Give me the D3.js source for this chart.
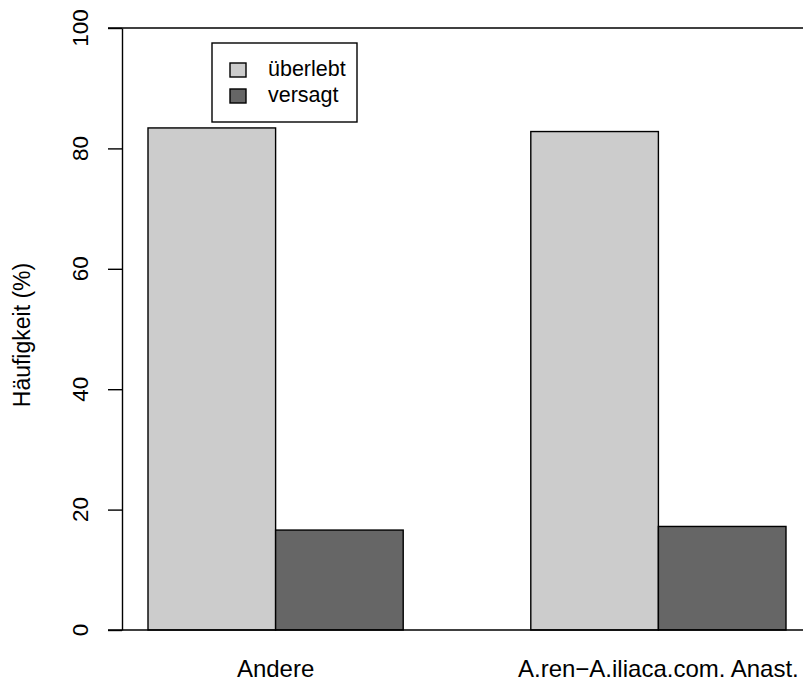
<!DOCTYPE html>
<html>
<head>
<meta charset="utf-8">
<script src="https://cdn.jsdelivr.net/npm/d3@7"></script>
<style>
  body { margin: 0; background: #fff; }
  text { font-family: "Liberation Sans", Arial, sans-serif; fill: #000; }
</style>
</head>
<body>
<div id="chart"></div>
<script>
const width = 803;
const height = 683;

// data
const groups = ["Andere", "A.ren\u2212A.iliaca.com. Anast."];
const series = ["überlebt", "versagt"];
const values = [
  [83.4, 16.6],
  [82.8, 17.2]
];
const yTicks = [0, 20, 40, 60, 80, 100];
const colors = ["#cccccc", "#666666"];

const svg = d3.select("#chart").append("svg")
  .attr("width", width)
  .attr("height", height);

const y = d3.scaleLinear().domain([0, 100]).range([630, 28]);

const x0 = d3.scaleBand()
  .domain(groups)
  .range([148, 786])
  .paddingInner(1 / 3)
  .paddingOuter(0);

const x1 = d3.scaleBand()
  .domain(series)
  .range([0, x0.bandwidth()]);

const color = d3.scaleOrdinal().domain(series).range(colors);

// bars
const g = svg.append("g");
groups.forEach((grp, i) => {
  g.selectAll(null)
    .data(series.map((s, j) => ({ s, v: values[i][j] })))
    .join("rect")
    .attr("x", d => x0(grp) + x1(d.s))
    .attr("y", d => y(d.v))
    .attr("width", x1.bandwidth())
    .attr("height", d => y(0) - y(d.v))
    .attr("fill", d => color(d.s))
    .attr("stroke", "#000")
    .attr("stroke-width", 1.4);
});

// horizontal lines at 0 and 100
svg.selectAll(".hline")
  .data([0, 100])
  .join("line")
  .attr("x1", 108)
  .attr("x2", width)
  .attr("y1", d => y(d))
  .attr("y2", d => y(d))
  .attr("stroke", "#000")
  .attr("stroke-width", 1.4);

// y axis
const yAxis = svg.append("g")
  .attr("transform", "translate(122,0)")
  .call(d3.axisLeft(y).tickValues(yTicks).tickSize(14).tickSizeOuter(0));
yAxis.select(".domain").attr("stroke", "#000").attr("stroke-width", 1.4);
yAxis.selectAll(".tick line").attr("stroke", "#000").attr("stroke-width", 1.4);
yAxis.selectAll(".tick text").remove();

svg.selectAll(".ylab")
  .data(yTicks)
  .join("text")
  .attr("transform", d => `translate(80,${y(d)}) rotate(-90)`)
  .attr("dy", "0.35em")
  .attr("text-anchor", "middle")
  .style("font-size", "22.5px")
  .text(d => d);

// y title
svg.append("text")
  .attr("transform", "translate(22,335) rotate(-90)")
  .attr("dy", "0.35em")
  .attr("text-anchor", "middle")
  .style("font-size", "23px")
  .text("Häufigkeit (%)");

// group labels
svg.selectAll(".xlab")
  .data(groups)
  .join("text")
  .attr("x", d => x0(d) + x0.bandwidth() / 2)
  .attr("y", 677)
  .attr("text-anchor", "middle")
  .style("font-size", "24px")
  .text(d => d);

// legend
const legend = svg.append("g");
legend.append("rect")
  .attr("x", 212).attr("y", 43)
  .attr("width", 145).attr("height", 79)
  .attr("fill", "#fff")
  .attr("stroke", "#000")
  .attr("stroke-width", 1.4);

const item = legend.selectAll(".item")
  .data(series)
  .join("g")
  .attr("transform", (d, i) => `translate(230,${63 + i * 26})`);
item.append("rect")
  .attr("width", 16).attr("height", 14)
  .attr("fill", d => color(d))
  .attr("stroke", "#000")
  .attr("stroke-width", 1.4);
item.append("text")
  .attr("x", 38)
  .attr("y", 13)
  .style("font-size", "21.5px")
  .text(d => d);
</script>
</body>
</html>
